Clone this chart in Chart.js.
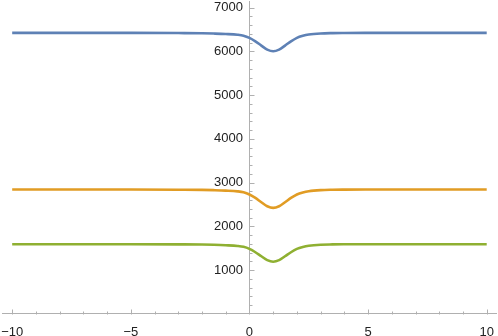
<!DOCTYPE html>
<html>
<head>
<meta charset="utf-8">
<script src="https://cdn.jsdelivr.net/npm/chart.js@4.4.1/dist/chart.umd.min.js"></script>
<style>
  html, body { margin: 0; padding: 0; background: #fff; }
  #wrap { width: 498px; height: 336px; }
</style>
</head>
<body>
<div id="wrap"><canvas id="chart"></canvas></div>
<script>
const xs = [-10, -5, -3, -2, -1.5, -1, -0.5, -0.25, 0, 0.25, 0.5, 0.75, 1, 1.25, 1.5, 1.75, 2, 2.25, 2.5, 3, 3.5, 4, 5, 10];
const blue = [6420, 6420, 6416, 6412, 6405, 6395, 6378, 6357, 6307, 6227, 6130, 6038, 6000, 6038, 6130, 6227, 6307, 6353, 6382, 6407, 6415, 6418, 6420, 6420];
const orange = [2840, 2840, 2836, 2832, 2825, 2815, 2798, 2777, 2727, 2647, 2550, 2458, 2420, 2458, 2550, 2647, 2727, 2773, 2802, 2827, 2835, 2838, 2840, 2840];
const green = [1590, 1590, 1586, 1582, 1576, 1566, 1550, 1530, 1482, 1406, 1314, 1226, 1190, 1226, 1314, 1406, 1482, 1526, 1554, 1578, 1585, 1588, 1590, 1590];
const xTicks = [-10, -5, 0, 5, 10];
const yTicks = [1000, 2000, 3000, 4000, 5000, 6000, 7000];

const toPoints = (ys) => ys.map((y, i) => ({ x: xs[i], y }));
const fmt = (v) => (v < 0 ? '\u2212' + Math.abs(v) : String(v));
const axisGray = '#b0b0b0';
const tickFont = { family: 'Liberation Sans, Arial, sans-serif', size: 13 };

// minor + major tick marks pointing into the plot, like Mathematica
const axisTicks = {
  id: 'axisTicks',
  beforeDatasetsDraw(chart) {
    const { ctx, scales: { x, y } } = chart;
    const x0 = Math.round(x.getPixelForValue(0)) + 0.5;
    const y0 = Math.round(y.getPixelForValue(0)) + 0.5;
    ctx.save();
    ctx.strokeStyle = axisGray;
    ctx.lineWidth = 1;
    ctx.beginPath();
    for (let v = -10; v <= 10; v++) {
      const px = Math.round(x.getPixelForValue(v)) + 0.5;
      const len = v % 5 === 0 ? 5 : 3;
      ctx.moveTo(px, y0);
      ctx.lineTo(px, y0 - len);
    }
    for (let v = 200; v <= 7000; v += 200) {
      const py = Math.round(y.getPixelForValue(v)) + 0.5;
      const len = v % 1000 === 0 ? 5 : 3;
      ctx.moveTo(x0, py);
      ctx.lineTo(x0 + len, py);
    }
    ctx.stroke();
    ctx.restore();
  },
};

const line = (data, color) => ({
  data: toPoints(data),
  borderColor: color,
  borderWidth: 2.6,
  pointRadius: 0,
  cubicInterpolationMode: 'monotone',
  fill: false,
});

const config = {
  type: 'line',
  data: {
    datasets: [
      line(blue, '#5E81B5'),
      line(orange, '#E19C24'),
      line(green, '#8FB032'),
    ],
  },
  options: {
    responsive: true,
    maintainAspectRatio: false,
    animation: false,
    layout: { padding: { top: 1.4, left: 2.7, right: 1.8, bottom: 0 } },
    scales: {
      x: {
        type: 'linear',
        position: 'bottom',
        min: -10.4,
        max: 10.4,
        afterBuildTicks: (scale) => { scale.ticks = xTicks.map((v) => ({ value: v })); },
        afterFit: (scale) => {
          scale.height = 22.25;
          scale.paddingLeft = 0;
          scale.paddingRight = 0;
        },
        grid: { display: false },
        border: { display: true, color: axisGray, width: 1 },
        ticks: {
          padding: 3,
          color: '#222',
          font: tickFont,
          maxRotation: 0,
          autoSkip: false,
          callback: (v) => fmt(v),
        },
      },
      y: {
        type: 'linear',
        position: { x: 0 },
        min: 0,
        max: 7140,
        afterBuildTicks: (scale) => { scale.ticks = yTicks.map((v) => ({ value: v })); },
        afterFit: (scale) => {
          scale.paddingTop = 0;
          scale.paddingBottom = 0;
        },
        grid: { display: false },
        border: { display: true, color: axisGray, width: 1 },
        ticks: {
          color: '#222',
          font: tickFont,
          autoSkip: false,
          // en space keeps the right-aligned labels clear of the axis
          callback: (v) => fmt(v) + '\u2002',
        },
      },
    },
    plugins: {
      legend: { display: false },
      tooltip: { enabled: false },
    },
  },
  plugins: [axisTicks],
};

new Chart(document.getElementById('chart'), config);
</script>
</body>
</html>
